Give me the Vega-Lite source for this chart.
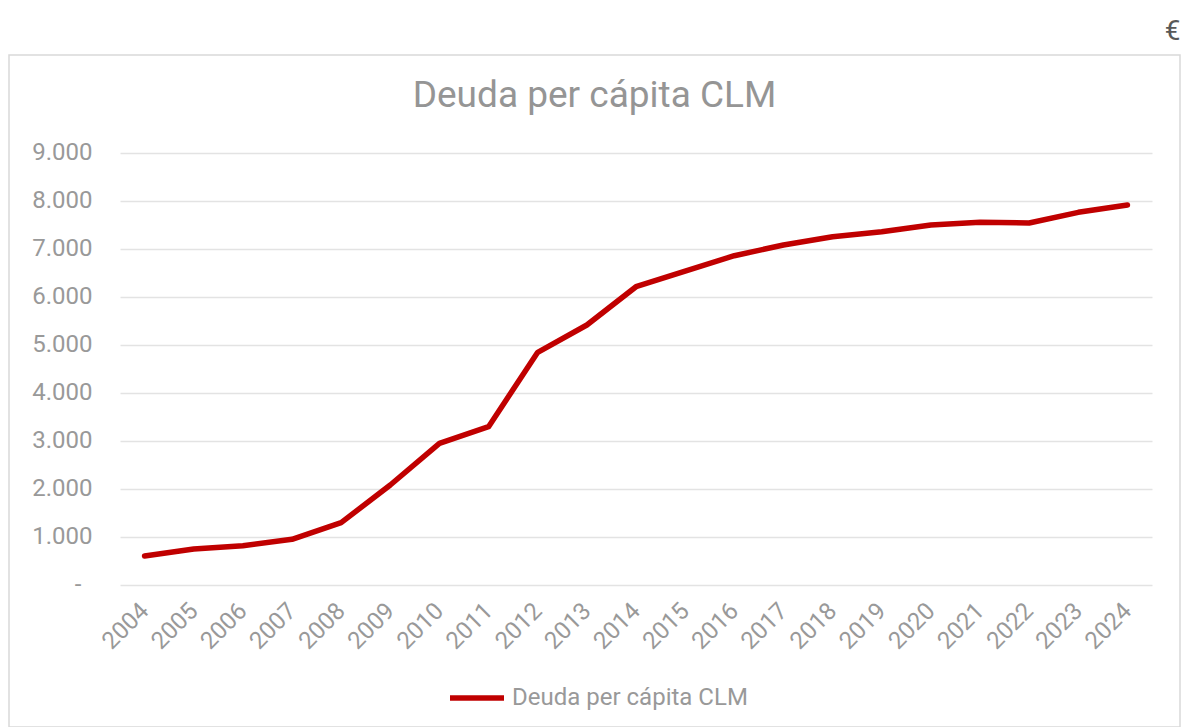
{
  "$schema": "https://vega.github.io/schema/vega-lite/v6.json",
  "autosize": {"type": "none"},
  "width": 1171,
  "height": 672,
  "padding": {"left": 9, "top": 55, "right": 2, "bottom": 0},
  "background": "white",
  "title": {
    "text": "Deuda per cápita CLM",
    "anchor": "middle",
    "frame": "group",
    "fontSize": 37,
    "font": "Roboto",
    "fontWeight": "normal",
    "color": "#959595",
    "baseline": "alphabetic",
    "offset": -127
  },
  "data": {
    "values": [
      {"anio": "2004", "deuda": 598, "serie": "Deuda per cápita CLM"},
      {"anio": "2005", "deuda": 743, "serie": "Deuda per cápita CLM"},
      {"anio": "2006", "deuda": 813, "serie": "Deuda per cápita CLM"},
      {"anio": "2007", "deuda": 945, "serie": "Deuda per cápita CLM"},
      {"anio": "2008", "deuda": 1292, "serie": "Deuda per cápita CLM"},
      {"anio": "2009", "deuda": 2077, "serie": "Deuda per cápita CLM"},
      {"anio": "2010", "deuda": 2945, "serie": "Deuda per cápita CLM"},
      {"anio": "2011", "deuda": 3292, "serie": "Deuda per cápita CLM"},
      {"anio": "2012", "deuda": 4842, "serie": "Deuda per cápita CLM"},
      {"anio": "2013", "deuda": 5410, "serie": "Deuda per cápita CLM"},
      {"anio": "2014", "deuda": 6208, "serie": "Deuda per cápita CLM"},
      {"anio": "2015", "deuda": 6535, "serie": "Deuda per cápita CLM"},
      {"anio": "2016", "deuda": 6854, "serie": "Deuda per cápita CLM"},
      {"anio": "2017", "deuda": 7077, "serie": "Deuda per cápita CLM"},
      {"anio": "2018", "deuda": 7250, "serie": "Deuda per cápita CLM"},
      {"anio": "2019", "deuda": 7354, "serie": "Deuda per cápita CLM"},
      {"anio": "2020", "deuda": 7494, "serie": "Deuda per cápita CLM"},
      {"anio": "2021", "deuda": 7550, "serie": "Deuda per cápita CLM"},
      {"anio": "2022", "deuda": 7535, "serie": "Deuda per cápita CLM"},
      {"anio": "2023", "deuda": 7758, "serie": "Deuda per cápita CLM"},
      {"anio": "2024", "deuda": 7910, "serie": "Deuda per cápita CLM"}
    ]
  },
  "mark": {"type": "line", "strokeWidth": 5.5, "strokeCap": "round", "strokeJoin": "round"},
  "encoding": {
    "x": {
      "field": "anio",
      "type": "ordinal",
      "scale": {"type": "point", "padding": 0.5, "range": [111, 1143]},
      "axis": {
        "title": null,
        "labelAngle": -45,
        "labelAlign": "right",
        "labelBaseline": "middle",
        "labelFontSize": 24,
        "labelFont": "Roboto",
        "labelColor": "#999999",
        "labelPadding": 22,
        "labelOverlap": false,
        "domain": false,
        "ticks": false,
        "tickSize": 0,
        "grid": false,
        "offset": -142
      }
    },
    "y": {
      "field": "deuda",
      "type": "quantitative",
      "scale": {"domain": [0, 9000], "range": [529.7, 97.7], "nice": false},
      "axis": {
        "title": "€",
        "titleAngle": 0,
        "titleX": 1084,
        "titleY": -16,
        "titleAlign": "right",
        "titleBaseline": "alphabetic",
        "titleFontSize": 28,
        "titleFont": "Roboto",
        "titleFontWeight": "normal",
        "titleColor": "#595959",
        "values": [0, 1000, 2000, 3000, 4000, 5000, 6000, 7000, 8000, 9000],
        "labelExpr": "datum.value === 0 ? '-' : replace(format(datum.value, ','), ',', '.')",
        "labelFontSize": 24,
        "labelFont": "Roboto",
        "labelColor": "#999999",
        "labelPadding": {"condition": {"test": "datum.value === 0", "value": 15}, "value": 4},
        "labelBaseline": "middle",
        "domain": false,
        "ticks": false,
        "tickSize": 0,
        "grid": true,
        "gridColor": "#e3e3e3",
        "gridWidth": 1.5,
        "offset": -87
      }
    },
    "color": {
      "field": "serie",
      "type": "nominal",
      "scale": {"range": ["#C00000"]},
      "legend": {
        "orient": "none",
        "legendX": 438,
        "legendY": 613,
        "title": null,
        "symbolType": "stroke",
        "symbolSize": 2916,
        "symbolStrokeWidth": 5.5,
        "labelFontSize": 24,
        "labelFont": "Roboto",
        "labelColor": "#999999",
        "labelOffset": 5,
        "labelLimit": 500,
        "padding": 0
      }
    }
  },
  "config": {
    "view": {"stroke": "#d9d9d9", "strokeWidth": 1.5}
  }
}
